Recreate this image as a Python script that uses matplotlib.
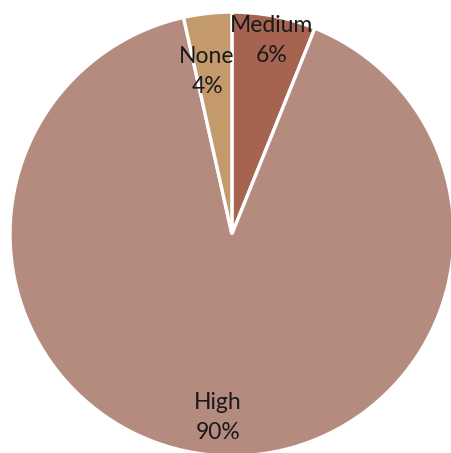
import matplotlib
matplotlib.use("Agg")
import numpy as np
import matplotlib.pyplot as plt

# pie data, clockwise from 12 o'clock
categories = ["Medium", "High", "None"]
shares = [6.1, 90.4, 3.5]
pct_labels = ["6%", "90%", "4%"]
colors = ["#A6634F", "#B68B7F", "#C49A6D"]
label_radius = [0.89, 0.83, 0.74]
label_shift = [-0.5, 0.3, 2.4]  # degrees, nudges off the slice midline

fig = plt.figure(figsize=(4.52, 4.53), dpi=100)
ax = fig.add_axes([0.0221, -0.0066, 0.982, 0.980])

wedges, _ = ax.pie(shares, colors=colors, startangle=90, counterclock=False,
                   radius=1, wedgeprops=dict(edgecolor="white", linewidth=2.4))

for w, cat, pct, r, s in zip(wedges, categories, pct_labels, label_radius, label_shift):
    mid = np.deg2rad((w.theta1 + w.theta2) / 2 + s)
    ax.text(r * np.cos(mid), r * np.sin(mid), cat + "\n" + pct,
            ha="center", va="center", fontsize=16.5, family="Lato",
            color="#1a1a1a", linespacing=1.55)

ax.set_xlim(-1, 1)
ax.set_ylim(-1, 1)
ax.set_aspect("equal")
ax.axis("off")
fig.savefig("out.png", dpi=100)
